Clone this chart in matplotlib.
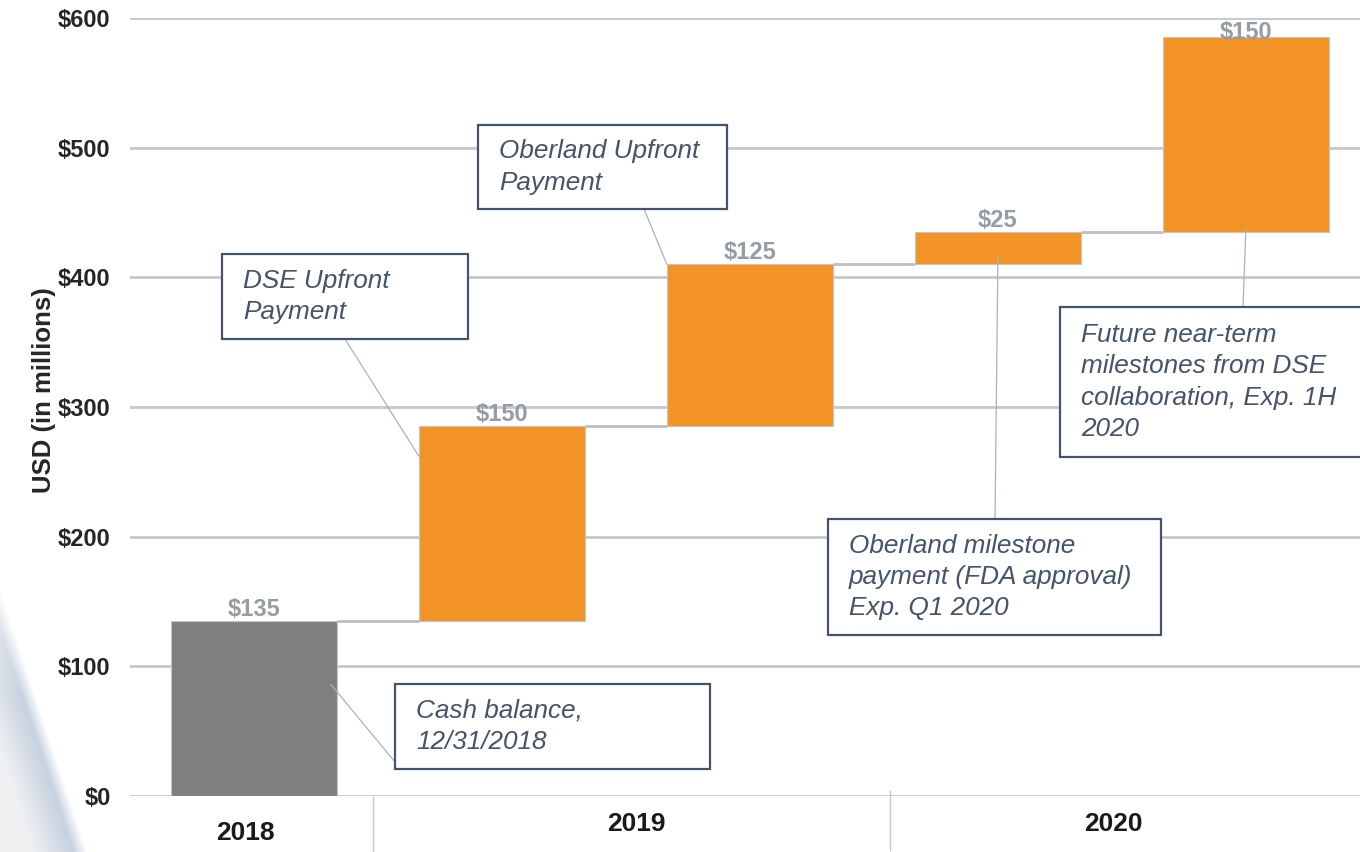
import numpy as np
import matplotlib
matplotlib.use('Agg')
import matplotlib.pyplot as plt
from matplotlib.patches import Rectangle
from matplotlib.transforms import blended_transform_factory

plt.rcParams['font.family'] = ['Liberation Sans', 'DejaVu Sans']

# ---------------- data ----------------
start_value = 135                      # cash balance 12/31/2018
increments = [150, 125, 25, 150]       # payments / milestones
year_labels = ['2018', '2019', '2020']
y_ticks = [0, 100, 200, 300, 400, 500, 600]
y_tick_labels = ['$0', '$100', '$200', '$300', '$400', '$500', '$600']
y_label = 'USD (in millions)'
note_texts = [
    'Cash balance,\n12/31/2018',
    'DSE Upfront\nPayment',
    'Oberland Upfront\nPayment',
    'Oberland milestone\npayment (FDA approval)\nExp. Q1 2020',
    'Future near-term\nmilestones from DSE\ncollaboration, Exp. 1H\n2020',
]

# ---------------- layout / style ----------------
W, H = 1360, 852
ORANGE = '#f39325'
GRAY = '#7f7f7f'
NOTE_C = '#44546a'
LEADER_C = '#a9b3bd'
GRID_C = '#c8c8c8'
CONN_C = '#bdbdbd'
VAL_C = '#949ca4'
BAR_W = 0.67

# boxes in figure pixels (left, top, right, bottom), leader start on box (px), leader target (data)
note_boxes = [(395, 684, 710, 769), (222, 254, 468, 339), (478, 125, 727, 209),
              (828, 519, 1161, 635), (1060, 307, 1375, 457)]
note_box_pts = [(395, 762), (345, 339), (644, 209), (995, 519), (1243, 307)]
note_targets = [(0.31, 86), (0.665, 262), (1.665, 410), (3.0, 416), (4.0, 438)]
year_label_px = [(245, 833), (636, 824), (1113, 824)]
sep_px = [(373, 797, 852), (890, 791, 850)]


def fx(px):
    return px / W


def fy(py):
    return 1 - py / H


values = [start_value] + increments
bottoms = [0] + list(np.cumsum(values)[:-1])
tops = list(np.cumsum(values))
xpos = np.arange(len(values))
colors = [GRAY] + [ORANGE] * len(increments)

fig = plt.figure(figsize=(W / 100, H / 100), dpi=100)

# decorative background swoosh (bottom-left)
bg = fig.add_axes([0, 0, 1, 1], zorder=-1)
yy, xx = np.mgrid[0:H, 0:W].astype(float)
edge_x = (yy - 630) * 0.33
d = edge_x - xx
blue = np.array([0.78, 0.82, 0.875])
light = np.array([0.94, 0.942, 0.95])
t = np.clip(d / 40.0, 0, 1)[..., None]
rgb = blue * (1 - t) + light * t
alpha_edge = np.clip((d + 14) / 14.0, 0, 1)
wv = np.clip((yy - 500) / 200.0, 0, 1)
img = np.dstack([rgb, alpha_edge * wv])
bg.imshow(img, extent=(0, W, H, 0), aspect='auto', interpolation='bilinear')
bg.set_xlim(0, W)
bg.set_ylim(H, 0)
bg.axis('off')

ax = fig.add_axes([fx(130), fy(796), 1 - fx(130), (796 - 18) / H], zorder=1)
ax.patch.set_alpha(0)
ax.set_xlim(-0.5, 4.46)
ax.set_ylim(0, 600)

ax.bar(xpos, values, bottom=bottoms, width=BAR_W, color=colors,
       edgecolor='#c4c4c4', linewidth=0.8, zorder=3)

# connectors
for i in range(len(values) - 1):
    ax.plot([xpos[i] + BAR_W / 2, xpos[i + 1] - BAR_W / 2], [tops[i], tops[i]],
            color=CONN_C, lw=2.0, zorder=2.5, solid_capstyle='butt')

# value labels
px_per_unit = (796 - 18) / 600
for i, v in enumerate(values):
    base = min(tops[i] + 5 / px_per_unit, 600 - 21 / px_per_unit)
    ax.text(xpos[i], base, f'${v}', ha='center', va='baseline', fontsize=17,
            fontweight='bold', color=VAL_C, zorder=5)

# axes styling
ax.set_yticks(y_ticks)
ax.set_yticklabels(y_tick_labels, fontsize=17, fontweight='bold', color='#262626')
ax.tick_params(axis='y', length=0, pad=14)
ax.set_xticks([])
ax.grid(axis='y', color=GRID_C, lw=2.0, zorder=0)
ax.set_axisbelow(True)
for s in ax.spines.values():
    s.set_visible(False)

fig.text(fx(44), fy(390), y_label, rotation=90, ha='center', va='center',
         fontsize=18.5, fontweight='bold', color='#262626')

# year labels and separators
for lab, (xp, yp) in zip(year_labels, year_label_px):
    fig.text(fx(xp), fy(yp), lab, ha='center', va='center',
             fontsize=19, fontweight='bold', color='#1a1a1a')
for xp, y0, y1 in sep_px:
    fig.lines.append(plt.Line2D([fx(xp), fx(xp)], [fy(y0), fy(y1)],
                                transform=fig.transFigure, color='#c5cbd1', lw=1.0))

# annotation boxes
for txt, box, bpt, tgt in zip(note_texts, note_boxes, note_box_pts, note_targets):
    l, t_, r, b = box
    rect = Rectangle((fx(l), fy(b)), fx(r) - fx(l), fy(t_) - fy(b),
                     transform=fig.transFigure, facecolor='white',
                     edgecolor=NOTE_C, lw=1.6, zorder=2)
    fig.patches.append(rect)
    fig.text(fx(l + 21), fy((t_ + b) / 2), txt, ha='left', va='center',
             fontsize=18.8, style='italic', color=NOTE_C, linespacing=1.38, zorder=3)
    ax.annotate('', xy=tgt, xycoords='data', xytext=(fx(bpt[0]), fy(bpt[1])),
                textcoords='figure fraction',
                arrowprops=dict(arrowstyle='-', color=LEADER_C, lw=0.9,
                                shrinkA=0, shrinkB=0), zorder=6)

fig.savefig('out.png', dpi=100)
